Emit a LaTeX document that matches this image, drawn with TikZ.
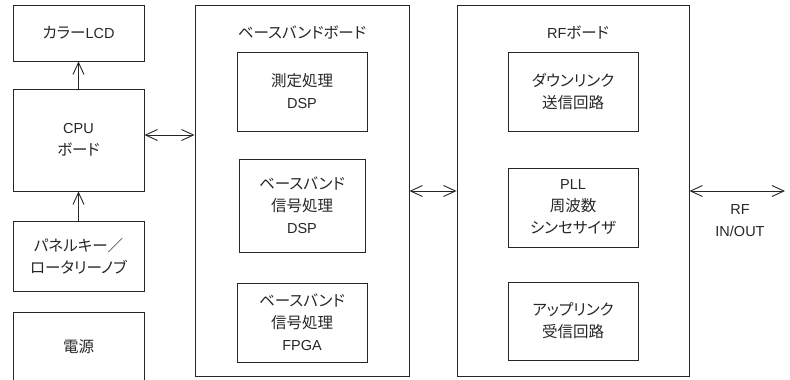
\documentclass[tikz,border=0pt]{standalone}
\usepackage{fontspec}
\setmainfont[RawFeature=+palt]{Noto Sans CJK JP}
\newfontfamily\lat{Liberation Sans}
\usetikzlibrary{arrows.meta}
\tikzset{
  blk/.style={draw=black!85, line width=0.9pt, rectangle, inner sep=0pt, align=center,
    text=black!85, font=\fontsize{15.5pt}{22pt}\selectfont},
  lbl/.style={inner sep=0pt, align=center, text=black!85, font=\fontsize{15.5pt}{22pt}\selectfont},
  conn/.style={draw=black!85, line width=0.9pt, >={Straight Barb[length=12pt,width=11pt]}},
}
\begin{document}
\begin{tikzpicture}[x=1pt, y=-1pt]
\useasboundingbox (0,0) rectangle (790,380);
% left column
\node[blk, minimum width=131pt, minimum height=56pt] (lcd) at (78.5,33) {カラー{\lat\fontsize{14.5pt}{22pt}\selectfont LCD}};
\node[blk, minimum width=131pt, minimum height=102pt] (cpu) at (78.5,140) {{\lat\fontsize{14.5pt}{22pt}\selectfont CPU}\\ボード};
\node[blk, minimum width=131pt, minimum height=70pt] (panel) at (78.5,256) {パネルキー／\\ロータリーノブ};
\node[blk, minimum width=131pt, minimum height=70pt] (power) at (78.5,347) {電源};
% baseband board
\node[blk, minimum width=214pt, minimum height=371pt] (bb) at (302,190.5) {};
\node[lbl] (bbt) at (302,32) {ベースバンドボード};
\node[blk, minimum width=130pt, minimum height=79pt] (bb1) at (302,91.5) {測定処理\\{\lat\fontsize{14.5pt}{22pt}\selectfont DSP}};
\node[blk, minimum width=126pt, minimum height=93pt] (bb2) at (302,205.5) {ベースバンド\\信号処理\\{\lat\fontsize{14.5pt}{22pt}\selectfont DSP}};
\node[blk, minimum width=130pt, minimum height=79pt] (bb3) at (302,322.5) {ベースバンド\\信号処理\\{\lat\fontsize{14.5pt}{22pt}\selectfont FPGA}};
% RF board
\node[blk, minimum width=232pt, minimum height=371pt] (rf) at (573,190.5) {};
\node[lbl] (rft) at (578,32) {{\lat\fontsize{14.5pt}{22pt}\selectfont RF}ボード};
\node[blk, minimum width=130pt, minimum height=79pt] (rf1) at (573,91.5) {ダウンリンク\\送信回路};
\node[blk, minimum width=130pt, minimum height=79pt] (rf2) at (573,207.5) {{\lat\fontsize{14.5pt}{22pt}\selectfont PLL}\\周波数\\シンセサイザ};
\node[blk, minimum width=130pt, minimum height=78pt] (rf3) at (573,321) {アップリンク\\受信回路};
% RF IN/OUT
\coordinate (rfout) at (785,191);
\node[lbl, font=\lat\fontsize{14.5pt}{22pt}\selectfont] (rflbl) at (740,220.5) {RF\\IN/OUT};
% connectors
\draw[conn, ->] (cpu.north) -- (lcd.south);
\draw[conn, ->] (panel.north) -- (cpu.south);
\draw[conn, <->] (cpu.east |- 0,135) -- (bb.west |- 0,135);
\draw[conn, <->] (bb.east |- 0,191) -- (rf.west |- 0,191);
\draw[conn, <->] (rf.east |- rfout) -- (rfout);
\end{tikzpicture}
\end{document}
